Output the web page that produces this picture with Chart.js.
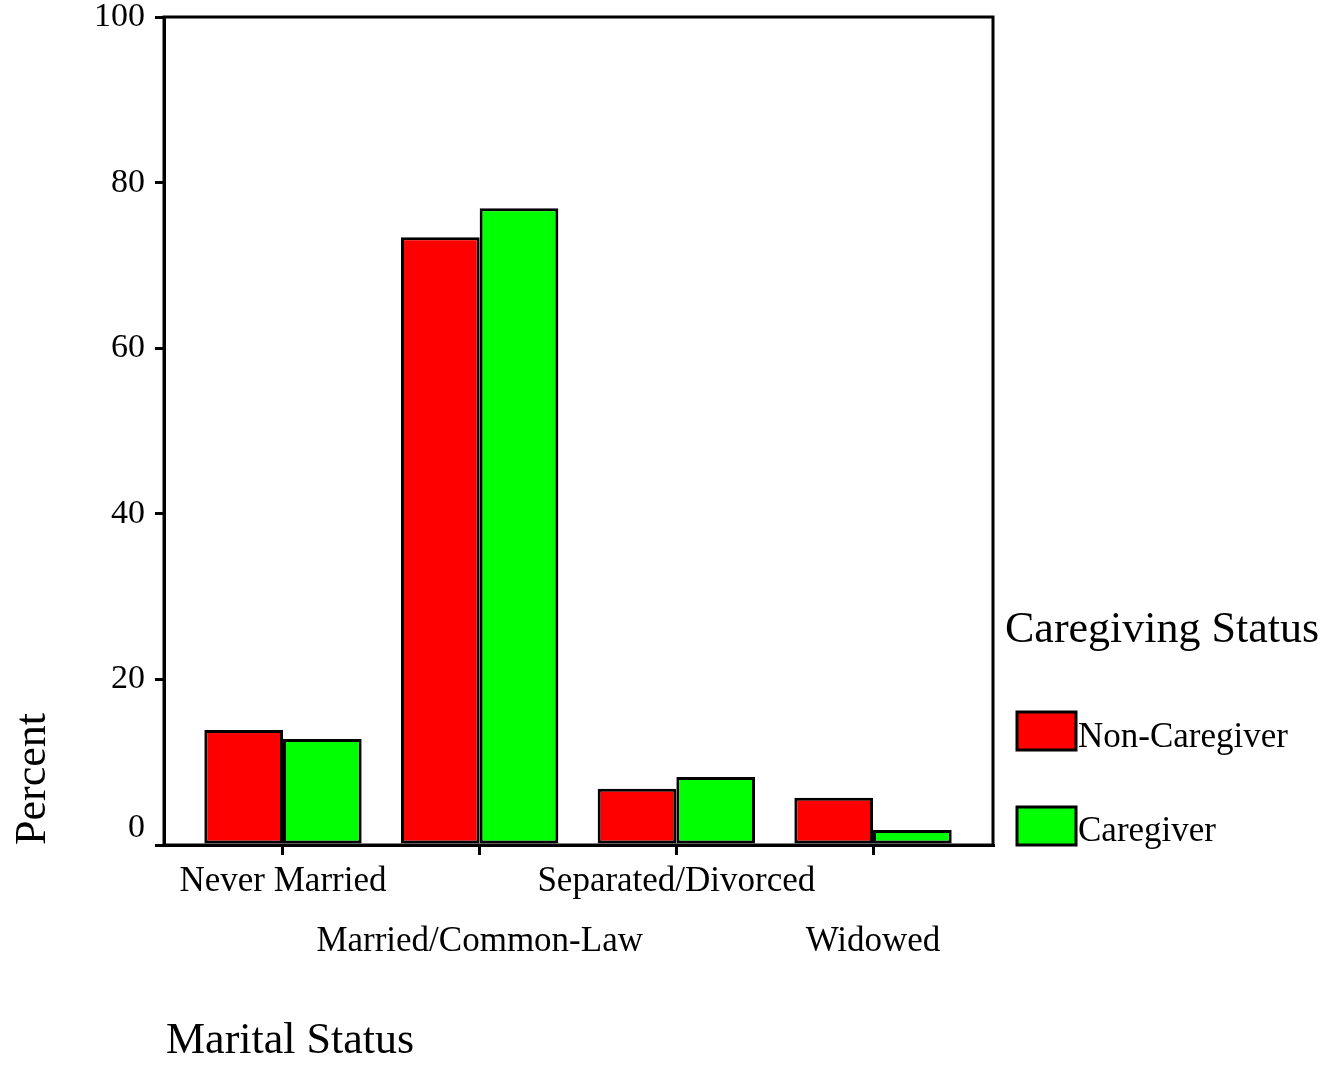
<!DOCTYPE html>
<html lang="en">
<head>
    <meta charset="UTF-8">
    <title>Marital Status by Caregiving Status</title>
    <style>
        body {
            margin: 0;
            padding: 0;
            background-color: #ffffff;
        }
        canvas {
            display: block;
        }
    </style>
    <script src="https://cdn.jsdelivr.net/npm/chart.js"></script>
</head>
<body>
    <canvas id="barChart" width="1329" height="1065"></canvas>

    <script>
        // Data
        const categories = ['Never Married', 'Married/Common-Law', 'Separated/Divorced', 'Widowed'];
        const nonCaregiver = [13.9, 73.4, 6.8, 5.7];
        const caregiver = [12.8, 76.9, 8.2, 1.8];
        const yTicks = [0, 20, 40, 60, 80, 100];
        const seriesNames = ['Non-Caregiver', 'Caregiver'];
        const seriesColors = ['#ff0000', '#00ff00'];

        const serif = "'Liberation Serif', 'Times New Roman', serif";

        // frame around the plot, axis titles and the legend
        const extrasPlugin = {
            id: 'extras',
            afterDraw(chart) {
                const ctx = chart.ctx;
                const a = chart.chartArea;
                ctx.save();
                ctx.strokeStyle = '#000';
                ctx.lineWidth = 3;
                ctx.strokeRect(a.left, a.top, a.right - a.left, a.bottom - a.top);

                ctx.fillStyle = '#000';
                ctx.textAlign = 'left';
                ctx.textBaseline = 'alphabetic';

                // axis titles
                ctx.font = '44px ' + serif;
                ctx.fillText('Marital Status', 166, 1053);
                ctx.save();
                ctx.translate(45, 845);
                ctx.rotate(-Math.PI / 2);
                ctx.fillText('Percent', 0, 0);
                ctx.restore();

                // legend
                ctx.fillText('Caregiving Status', 1005, 642);
                const boxTops = [712, 807];
                const textBase = [747, 841];
                ctx.font = '35px ' + serif;
                chart.data.datasets.forEach(function(ds, i) {
                    ctx.fillStyle = ds.backgroundColor;
                    ctx.fillRect(1017, boxTops[i], 59, 38);
                    ctx.lineWidth = 3;
                    ctx.strokeStyle = '#000';
                    ctx.strokeRect(1017, boxTops[i], 59, 38);
                    ctx.fillStyle = '#000';
                    ctx.fillText(ds.label, 1078, textBase[i]);
                });
                ctx.restore();
            }
        };

        window.onload = function() {
            var ctx1 = document.getElementById('barChart').getContext('2d');
            var barChart = new Chart(ctx1, {
                type: 'bar',
                data: {
                    datasets: [
                        {
                            label: seriesNames[0],
                            data: categories.map(function(c, i) { return { x: i, y: nonCaregiver[i] }; }),
                            backgroundColor: seriesColors[0],
                            borderColor: '#000',
                            borderWidth: 3,
                            borderSkipped: false
                        },
                        {
                            label: seriesNames[1],
                            data: categories.map(function(c, i) { return { x: i, y: caregiver[i] }; }),
                            backgroundColor: seriesColors[1],
                            borderColor: '#000',
                            borderWidth: 3,
                            borderSkipped: false
                        }
                    ]
                },
                options: {
                    responsive: false,
                    animation: false,
                    layout: {
                        padding: { left: 0, right: 336, top: 17, bottom: 0 }
                    },
                    plugins: {
                        legend: { display: false },
                        tooltip: { enabled: false }
                    },
                    datasets: {
                        bar: {
                            barPercentage: 1,
                            categoryPercentage: 0.8
                        }
                    },
                    scales: {
                        x: {
                            type: 'linear',
                            offset: false,
                            min: -0.605,
                            max: 3.61,
                            afterBuildTicks: function(scale) {
                                scale.ticks = categories.map(function(c, i) { return { value: i }; });
                            },
                            afterFit: function(scale) {
                                scale.height = 220;
                                scale.paddingLeft = 0;
                                scale.paddingRight = 0;
                            },
                            ticks: {
                                autoSkip: false,
                                maxRotation: 0,
                                padding: -3,
                                color: '#000',
                                font: { family: serif, size: 35, lineHeight: 60 / 35 },
                                callback: function(value, index) {
                                    const name = categories[value];
                                    return index % 2 === 0 ? [name] : ['', name];
                                }
                            },
                            grid: {
                                offset: false,
                                drawOnChartArea: false,
                                drawTicks: true,
                                tickLength: 10,
                                color: '#000',
                                lineWidth: 3
                            },
                            border: { display: true, color: '#000', width: 3 }
                        },
                        y: {
                            min: 0,
                            max: 100,
                            afterBuildTicks: function(scale) {
                                scale.ticks = yTicks.map(function(v) { return { value: v }; });
                            },
                            afterFit: function(scale) {
                                scale.width = 164;
                                scale.paddingTop = 0;
                                scale.paddingBottom = 0;
                            },
                            ticks: {
                                padding: 10,
                                color: '#000',
                                font: { family: serif, size: 34, lineHeight: 1 },
                                callback: function(value) {
                                    // the zero label sits a little above its tick in the original
                                    return value === 0 ? ['0', ''] : String(value);
                                }
                            },
                            grid: {
                                drawOnChartArea: false,
                                drawTicks: true,
                                tickLength: 9,
                                color: '#000',
                                lineWidth: 3
                            },
                            border: { display: true, color: '#000', width: 3 }
                        }
                    }
                },
                plugins: [extrasPlugin]
            });
        };
    </script>
</body>
</html>
